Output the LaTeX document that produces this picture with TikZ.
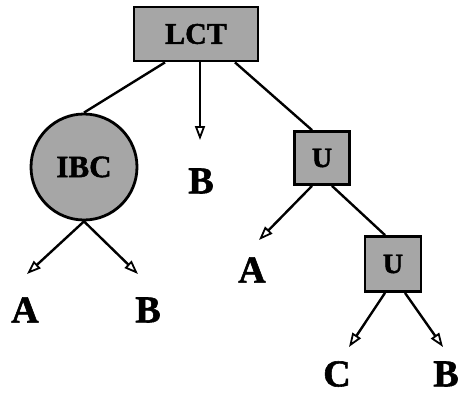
\documentclass[tikz,border=0pt]{standalone}
\usepackage{fontspec}
\setmainfont[BoldFeatures={FakeBold=1.5}]{Liberation Serif}
\usetikzlibrary{arrows.meta}
\begin{document}
\begin{tikzpicture}[x=1pt,y=-1pt,
  edge/.style={line width=2.4pt},
  arr/.style={edge,-{Triangle[open,length=14pt,width=10pt,line width=1.8pt]}},
  opbox/.style={draw,line width=2.8pt,fill=black!35,inner sep=0pt},
  leaf/.style={font=\fontsize{38}{38}\selectfont\bfseries,inner sep=0pt}]
\useasboundingbox (0,0) rectangle (464,397);
% operator nodes
\node[opbox,minimum width=124pt,minimum height=54pt,font=\fontsize{30}{30}\selectfont\bfseries] (lct) at (196,34) {LCT};
\node[opbox,circle,minimum size=106pt,font=\fontsize{31}{31}\selectfont\bfseries] (ibc) at (84,167) {IBC};
\node[opbox,minimum width=55pt,minimum height=53pt,font=\fontsize{28}{28}\selectfont\bfseries] (u1) at (322,158) {U};
\node[opbox,minimum width=56pt,minimum height=55pt,font=\fontsize{28}{28}\selectfont\bfseries] (u2) at (393,264) {U};
% leaves
\node[leaf] (a1) at (25,310) {A};
\node[leaf] (b1) at (148,310) {B};
\node[leaf] (b2) at (201,181) {B};
\node[leaf] (a2) at (252,270) {A};
\node[leaf] (c1) at (337,374) {C};
\node[leaf] (b3) at (446,374) {B};
% arrow tips
\coordinate (t1) at (27,274);
\coordinate (t2) at (138,274);
\coordinate (t3) at (200,140);
\coordinate (t4) at (259,240);
\coordinate (t5) at (349,347);
\coordinate (t6) at (443,347);
% connectors
\draw[edge] ([xshift=-31pt]lct.south) -- (ibc.north);
\draw[arr] ([xshift=4pt]lct.south) -- (t3);
\draw[edge] ([xshift=39pt]lct.south) -- ([xshift=-10pt]u1.north);
\draw[arr] (ibc.south) -- (t1);
\draw[arr] (ibc.south) -- (t2);
\draw[arr] ([xshift=-10pt]u1.south) -- (t4);
\draw[edge] ([xshift=10pt]u1.south) -- ([xshift=-8pt]u2.north);
\draw[arr] ([xshift=-8pt]u2.south) -- (t5);
\draw[arr] ([xshift=12pt]u2.south) -- (t6);
\end{tikzpicture}
\end{document}
